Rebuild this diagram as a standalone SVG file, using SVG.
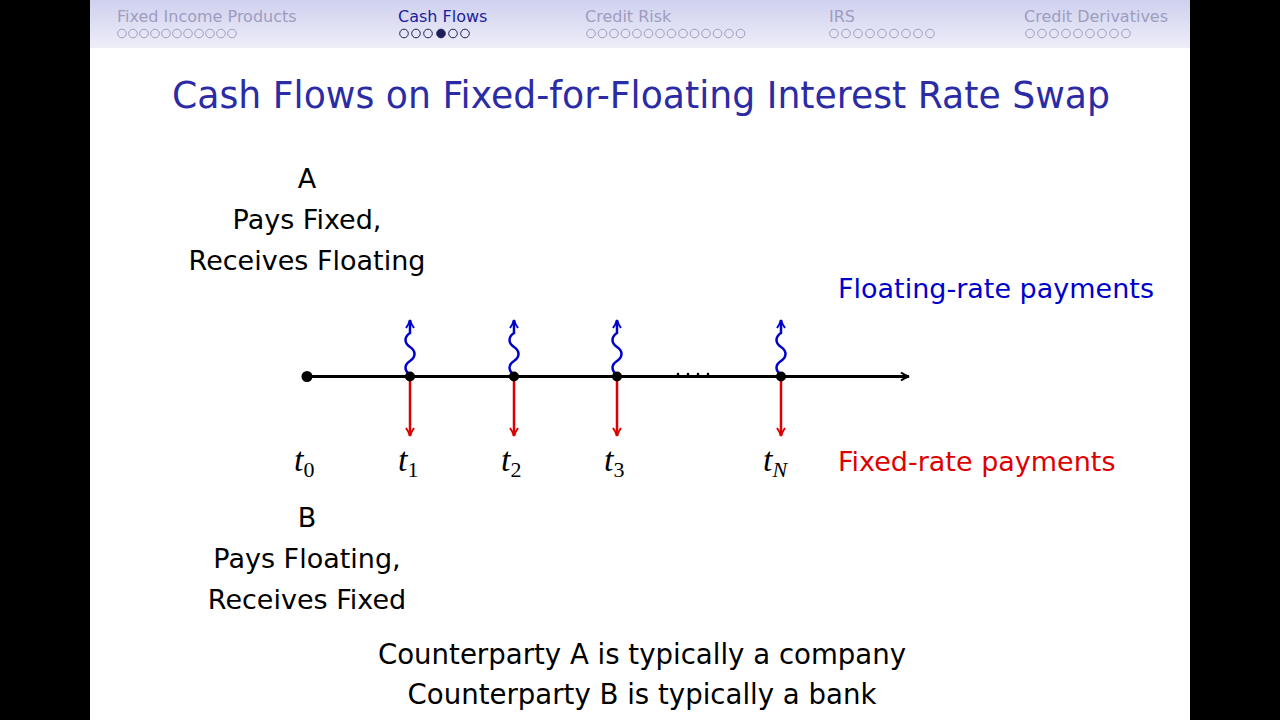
<svg xmlns="http://www.w3.org/2000/svg" width="1280" height="720" viewBox="0 0 1280 720">
<defs>
<linearGradient id="hdr" x1="0" y1="0" x2="0" y2="1">
<stop offset="0" stop-color="#cfd0ee"/>
<stop offset="1" stop-color="#eeeef9"/>
</linearGradient>
<marker id="ab" viewBox="0 0 10 10" refX="9" refY="5" markerWidth="10" markerHeight="10" markerUnits="userSpaceOnUse" orient="auto">
<path d="M1,1 Q5,4 9,5 Q5,6 1,9" fill="none" stroke="#000" stroke-width="2"/>
</marker>
<marker id="ar" viewBox="0 0 10 10" refX="9" refY="5" markerWidth="10" markerHeight="10" markerUnits="userSpaceOnUse" orient="auto">
<path d="M1,1 Q5,4 9,5 Q5,6 1,9" fill="none" stroke="#dd0000" stroke-width="2"/>
</marker>
<marker id="au" viewBox="0 0 10 10" refX="9" refY="5" markerWidth="10" markerHeight="10" markerUnits="userSpaceOnUse" orient="auto">
<path d="M1,1 Q5,4 9,5 Q5,6 1,9" fill="none" stroke="#0000cc" stroke-width="2"/>
</marker>
</defs>
<style>
.nav{font-family:"DejaVu Sans",sans-serif;font-size:16px;fill:#9d9dc0}
.navon{font-family:"DejaVu Sans",sans-serif;font-size:16px;fill:#1e1e9a}
.od{fill:none;stroke:#9d9dc0;stroke-width:1}
.odon{fill:none;stroke:#1e1e5a;stroke-width:1}
.t{font-family:"DejaVu Sans",sans-serif;font-size:27px;fill:#000;text-anchor:middle}
.b{font-size:27.6px}
.m{font-family:"Liberation Serif",serif;font-style:italic;font-size:34px;fill:#000}
.s{font-family:"Liberation Serif",serif;font-size:22px;font-style:normal}
.si{font-family:"Liberation Serif",serif;font-size:22px;font-style:italic}
</style>
<rect x="0" y="0" width="1280" height="720" fill="#000"/>
<rect x="90" y="0" width="1100" height="720" fill="#fff"/>
<rect x="90" y="0" width="1100" height="48" fill="url(#hdr)"/>
<g id="nav">
<text class="nav" x="117" y="22">Fixed Income Products</text>
<text class="navon" x="398" y="22">Cash Flows</text>
<text class="nav" x="585" y="22">Credit Risk</text>
<text class="nav" x="829" y="22">IRS</text>
<text class="nav" x="1024" y="22">Credit Derivatives</text>
<g class="od">
<circle cx="122" cy="33.5" r="4.3"/><circle cx="133" cy="33.5" r="4.3"/><circle cx="144" cy="33.5" r="4.3"/><circle cx="155" cy="33.5" r="4.3"/><circle cx="166" cy="33.5" r="4.3"/><circle cx="177" cy="33.5" r="4.3"/><circle cx="188" cy="33.5" r="4.3"/><circle cx="199" cy="33.5" r="4.3"/><circle cx="210" cy="33.5" r="4.3"/><circle cx="221" cy="33.5" r="4.3"/><circle cx="232" cy="33.5" r="4.3"/>
</g>
<g class="odon">
<circle cx="404" cy="33.5" r="4.3"/><circle cx="416" cy="33.5" r="4.3"/><circle cx="428" cy="33.5" r="4.3"/><circle cx="441" cy="33.5" r="4.3" fill="#1e1e5a"/><circle cx="453" cy="33.5" r="4.3"/><circle cx="465" cy="33.5" r="4.3"/>
</g>
<g class="od">
<circle cx="591" cy="33.5" r="4.3"/><circle cx="602.5" cy="33.5" r="4.3"/><circle cx="614" cy="33.5" r="4.3"/><circle cx="625.5" cy="33.5" r="4.3"/><circle cx="637" cy="33.5" r="4.3"/><circle cx="648.5" cy="33.5" r="4.3"/><circle cx="660" cy="33.5" r="4.3"/><circle cx="671.5" cy="33.5" r="4.3"/><circle cx="683" cy="33.5" r="4.3"/><circle cx="694.5" cy="33.5" r="4.3"/><circle cx="706" cy="33.5" r="4.3"/><circle cx="717.5" cy="33.5" r="4.3"/><circle cx="729" cy="33.5" r="4.3"/><circle cx="740.5" cy="33.5" r="4.3"/>
<circle cx="834" cy="33.5" r="4.3"/><circle cx="846" cy="33.5" r="4.3"/><circle cx="858" cy="33.5" r="4.3"/><circle cx="870" cy="33.5" r="4.3"/><circle cx="882" cy="33.5" r="4.3"/><circle cx="894" cy="33.5" r="4.3"/><circle cx="906" cy="33.5" r="4.3"/><circle cx="918" cy="33.5" r="4.3"/><circle cx="930" cy="33.5" r="4.3"/>
<circle cx="1030" cy="33.5" r="4.3"/><circle cx="1042" cy="33.5" r="4.3"/><circle cx="1054" cy="33.5" r="4.3"/><circle cx="1066" cy="33.5" r="4.3"/><circle cx="1078" cy="33.5" r="4.3"/><circle cx="1090" cy="33.5" r="4.3"/><circle cx="1102" cy="33.5" r="4.3"/><circle cx="1114" cy="33.5" r="4.3"/><circle cx="1126" cy="33.5" r="4.3"/>
</g>
</g>
<text id="title" x="641" y="108" text-anchor="middle" font-family="DejaVu Sans, sans-serif" font-size="37" fill="#2b2ba6" textLength="938" lengthAdjust="spacingAndGlyphs">Cash Flows on Fixed-for-Floating Interest Rate Swap</text>
<g id="nodeA">
<text class="t" x="307" y="188">A</text>
<text class="t" x="307" y="229">Pays Fixed,</text>
<text class="t" x="307" y="270">Receives Floating</text>
</g>
<g id="nodeB">
<text class="t" x="307" y="527">B</text>
<text class="t" x="307" y="568">Pays Floating,</text>
<text class="t" x="307" y="609">Receives Fixed</text>
</g>
<g id="connectors">
<line x1="307" y1="376.5" x2="909" y2="376.5" stroke="#000" stroke-width="3" marker-end="url(#ab)"/>
<g stroke="#dd0000" stroke-width="2.5" fill="none">
<line x1="410" y1="377" x2="410" y2="436" marker-end="url(#ar)"/>
<line x1="514" y1="377" x2="514" y2="436" marker-end="url(#ar)"/>
<line x1="617" y1="377" x2="617" y2="436" marker-end="url(#ar)"/>
<line x1="781" y1="377" x2="781" y2="436" marker-end="url(#ar)"/>
</g>
<g stroke="#0000cc" stroke-width="2.5" fill="none">
<path d="M410,375 c-6,-5 -6,-10 0,-14 c6,-4 6,-10 0,-14 c-6,-4 -6,-10 0,-14 l0,-13" marker-end="url(#au)"/>
<path d="M514,375 c-6,-5 -6,-10 0,-14 c6,-4 6,-10 0,-14 c-6,-4 -6,-10 0,-14 l0,-13" marker-end="url(#au)"/>
<path d="M617,375 c-6,-5 -6,-10 0,-14 c6,-4 6,-10 0,-14 c-6,-4 -6,-10 0,-14 l0,-13" marker-end="url(#au)"/>
<path d="M781,375 c-6,-5 -6,-10 0,-14 c6,-4 6,-10 0,-14 c-6,-4 -6,-10 0,-14 l0,-13" marker-end="url(#au)"/>
</g>
</g>
<g id="points" fill="#000">
<circle cx="307" cy="376.5" r="5.5"/>
<circle cx="410" cy="376.5" r="5"/>
<circle cx="514" cy="376.5" r="5"/>
<circle cx="617" cy="376.5" r="5"/>
<circle cx="781" cy="376.5" r="5"/>
<circle cx="678" cy="374" r="1.3"/><circle cx="688" cy="374" r="1.3"/><circle cx="698" cy="374" r="1.3"/><circle cx="708" cy="374" r="1.3"/>
</g>
<g id="ticks">
<text class="m" x="294" y="471">t<tspan class="s" dy="6">0</tspan></text>
<text class="m" x="398" y="471">t<tspan class="s" dy="6">1</tspan></text>
<text class="m" x="501" y="471">t<tspan class="s" dy="6">2</tspan></text>
<text class="m" x="604" y="471">t<tspan class="s" dy="6">3</tspan></text>
<text class="m" x="763" y="471">t<tspan class="si" dy="6">N</tspan></text>
</g>
<text id="floatLabel" x="838" y="298" font-family="DejaVu Sans, sans-serif" font-size="27" fill="#0000cc">Floating-rate payments</text>
<text id="fixedLabel" x="838" y="471" font-family="DejaVu Sans, sans-serif" font-size="27" fill="#dd0000">Fixed-rate payments</text>
<g id="note">
<text class="t b" x="642" y="664">Counterparty A is typically a company</text>
<text class="t b" x="642" y="704">Counterparty B is typically a bank</text>
</g>
</svg>
